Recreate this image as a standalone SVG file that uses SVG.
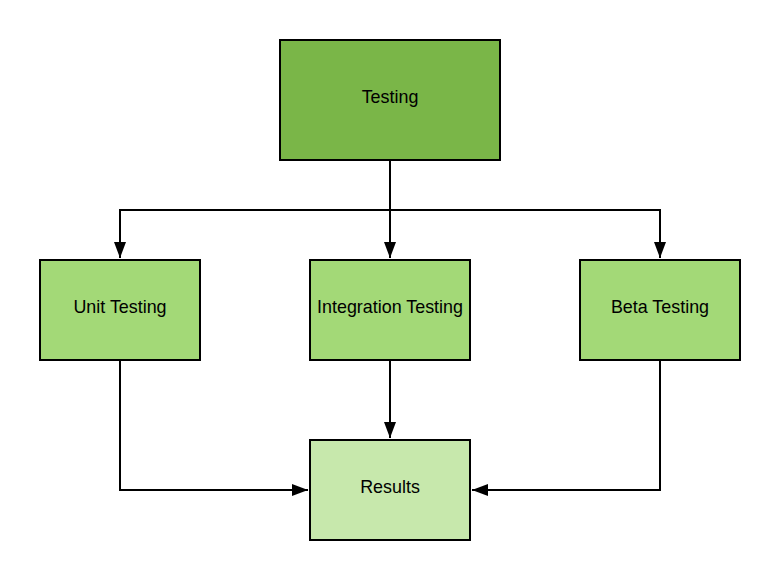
<svg xmlns="http://www.w3.org/2000/svg" width="780" height="580" viewBox="0 0 780 580">
<style>
.box{stroke:#000;stroke-width:2}
.dark{fill:#7ab648}
.mid{fill:#a3d977}
.light{fill:#c7e8ac}
.lbl{font-family:"Liberation Sans",Arial,sans-serif;font-size:17.9px;fill:#000;text-anchor:middle;dominant-baseline:central}
.conn{fill:none;stroke:#000;stroke-width:2}
</style>
<defs>
<marker id="arr" viewBox="0 0 16 12" refX="16" refY="6" markerWidth="16" markerHeight="12" markerUnits="userSpaceOnUse" orient="auto">
<path d="M0,0 L16,6 L0,12 Z" fill="#000"/>
</marker>
</defs>
<rect width="780" height="580" fill="#fff"/>
<g id="connectors">
<path class="conn" d="M390,160 V210 H120 V258" marker-end="url(#arr)"/>
<path class="conn" d="M390,160 V258" marker-end="url(#arr)"/>
<path class="conn" d="M390,210 H660 V258" marker-end="url(#arr)"/>
<path class="conn" d="M120,360 V490 H308" marker-end="url(#arr)"/>
<path class="conn" d="M390,360 V438" marker-end="url(#arr)"/>
<path class="conn" d="M660,360 V490 H472" marker-end="url(#arr)"/>
</g>
<g id="testing">
<rect class="box dark" x="280" y="40" width="220" height="120"/>
<text class="lbl" x="390" y="97">Testing</text>
</g>
<g id="unit-testing">
<rect class="box mid" x="40" y="260" width="160" height="100"/>
<text class="lbl" x="120" y="307">Unit Testing</text>
</g>
<g id="integration-testing">
<rect class="box mid" x="310" y="260" width="160" height="100"/>
<text class="lbl" x="390" y="307">Integration Testing</text>
</g>
<g id="beta-testing">
<rect class="box mid" x="580" y="260" width="160" height="100"/>
<text class="lbl" x="660" y="307">Beta Testing</text>
</g>
<g id="results">
<rect class="box light" x="310" y="440" width="160" height="100"/>
<text class="lbl" x="390" y="487">Results</text>
</g>
</svg>
